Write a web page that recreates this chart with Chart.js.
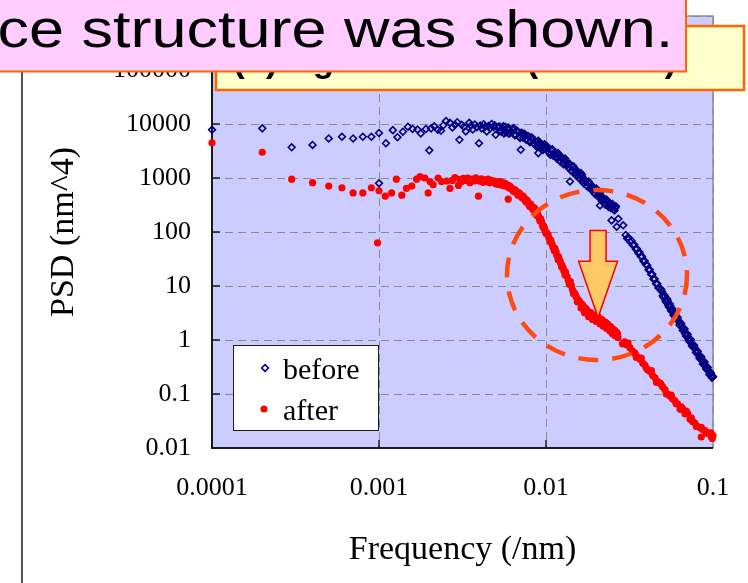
<!DOCTYPE html>
<html>
<head>
<meta charset="utf-8">
<title>PSD before / after</title>
<script src="https://cdn.jsdelivr.net/npm/chart.js@4.4.1/dist/chart.umd.min.js"></script>
<style>
  html, body { margin: 0; padding: 0; background: #ffffff; }
  #psdChart { display: block; }
</style>
</head>
<body>
<canvas id="psdChart" width="748" height="583"></canvas>
<script>
// spectrum bins are multiples of this frequency step (1/nm)
const FREQ_STEP = 1e-4;

const xTicks = [0.0001, 0.001, 0.01, 0.1];
const yTicks = [0.01, 0.1, 1, 10, 100, 1000, 10000, 100000, 1000000];

const seriesLabels = ["before", "after"];

// first scan
const beforeBin = [
  1, 2, 3, 4, 5, 6, 7, 8, 9, 10, 10, 11,
  12.1, 12.9, 13.9, 14.9, 15.9, 17, 17.8, 19.1, 20, 20.5,
  21.4, 22.5, 23.5, 24.3, 25.2, 26.6, 27.5, 28.5, 29.4, 30.3,
  31.3, 32.2, 33.1, 34.7, 35.5, 36.4, 37.5, 38.5, 39.7, 40.4,
  41.2, 42.3, 43.2, 44.2, 45.3, 46.2, 47.3, 48.5, 49.3, 50,
  51.5, 52.3,
  53, 54, 55, 56, 57, 58, 59, 60, 62, 64,
  66, 68, 70, 70.6, 72, 74, 76, 78, 80, 82,
  84, 86, 88, 89.9, 90, 92, 94, 96, 98, 100,
  103, 106, 109, 112, 115, 118, 121, 124, 127, 130,
  134, 138, 139.2, 142, 146, 150, 154, 158, 162, 163.6, 166, 170,
  175, 180, 185, 190, 195, 200, 205, 210, 210.6, 215,
  220, 225, 230, 235, 240, 245, 247, 250, 255, 260,
  265, 271, 290,
  300, 306, 312, 319, 325, 332, 338, 345, 350, 357,
  363, 370, 376, 383, 390, 397, 404, 411, 418, 426,
  433, 440, 448, 456, 464, 472, 480,
  490, 500, 510, 520, 530, 540, 550, 560, 570, 580,
  590, 600, 615, 630, 645, 660, 675, 690, 705, 720,
  735, 750, 770, 790, 810, 830, 850, 870, 890, 910,
  930, 950, 970, 985, 1000
];
const beforePsd = [
  7800, 8300, 3700, 4100, 5400, 5800, 5400, 5800, 5800, 6800, 800, 4400,
  7700, 5700, 7200, 8900, 8100, 7900, 6700, 8100, 3250, 8300,
  9100, 7800, 7500, 9500, 11300, 10500, 8600, 9700, 10800, 5100,
  9700, 8900, 7300, 10500, 9300, 7900, 9800, 8700, 4400, 9400,
  8300, 9900, 8900, 7300, 9200, 8300, 10000, 8800, 9500, 6300,
  8600, 9000,
  8900, 7200, 8200, 6700, 8900, 7200, 8200, 6600, 7300, 8400,
  6300, 7000, 5500, 3330, 6800, 6600, 5100, 6000, 4600, 5700,
  4500, 4900, 3800, 2890, 4900, 3900, 4200, 3300, 4200, 3400,
  3600, 2700, 3400, 2700, 2500, 2900, 2150, 2300, 1800, 2300,
  1750, 1850, 860, 1350, 1650, 1250, 1350, 1000, 1230, 1060, 900, 950,
  720, 860, 660, 700, 530, 640, 480, 530, 310, 400,
  430, 330, 400, 310, 345, 275, 164, 330, 260, 280,
  125, 176, 133,
  88, 76, 78, 66, 69, 57, 58, 48, 49, 41,
  42, 35, 35, 29, 29, 25, 24, 20, 20, 16.5,
  16.5, 13.5, 13.5, 11, 11, 9.2, 9,
  8.6, 6.6, 6.8, 5.3, 5.8, 4.4, 4.7, 3.6, 3.8, 2.9,
  3.2, 2.5, 2.6, 1.9, 2, 1.5, 1.6, 1.18, 1.27, 0.95,
  1.02, 0.77, 0.8, 0.59, 0.62, 0.46, 0.49, 0.36, 0.39, 0.29,
  0.31, 0.23, 0.245, 0.2, 0.21
];

// repeat scan over the mid/high band
const beforeRepeatBin = [
  53.5, 55.5, 57.5, 59.5, 61, 63, 65, 67, 69, 71,
  73, 75, 77, 79, 81, 83, 85, 87, 89, 91,
  93, 95, 97, 99, 101, 104, 107, 110, 113, 116,
  119, 122, 125, 128, 132, 136, 140, 144, 148, 152,
  156, 160, 164, 168, 172, 177, 182, 187, 192, 197,
  202, 207, 212, 217, 222, 227, 232, 237, 242, 252,
  257, 262,
  495, 505, 515, 525, 535, 545, 555, 565, 575, 585,
  595, 607, 622, 637, 652, 667, 682, 697, 712, 727,
  742, 760, 780, 800, 820, 840, 860, 880, 900, 920,
  940, 960, 978, 993
];
const beforeRepeatPsd = [
  7600, 9100, 7000, 8600, 6900, 7900, 6200, 7600, 5800, 6900,
  5600, 6400, 5300, 5800, 4700, 5300, 4300, 4700, 3900, 4500,
  3600, 4100, 3500, 3900, 3900, 3000, 3300, 2600, 3000, 2300,
  2600, 2000, 2400, 1850, 2000, 1550, 1700, 1300, 1450, 1100,
  1250, 950, 1150, 800, 900, 700, 760, 600, 640, 500,
  560, 440, 470, 370, 400, 320, 360, 290, 330, 300,
  250, 300,
  7.8, 6.2, 6.4, 5, 5.4, 4.1, 4.3, 3.4, 3.4, 2.8,
  2.9, 2.5, 2.2, 2.1, 1.7, 1.65, 1.3, 1.25, 1.05, 0.98,
  0.86, 0.75, 0.7, 0.6, 0.52, 0.46, 0.42, 0.37, 0.34, 0.3,
  0.27, 0.25, 0.22, 0.205
];

const afterBin = [
  1, 2, 3, 4, 5, 6, 7, 8, 9, 9.8, 10,
  10.9, 11.9, 12.7, 13.7, 14.6, 15.7, 16.8, 17.6, 18.8, 19.7,
  20.2, 21.1, 22.6, 23.7, 25.4, 26.6, 27.5, 28.5, 29.9, 30.5,
  31.2, 32, 33, 34, 35, 36, 37, 38, 39.4,
  40, 41, 42, 43, 44, 45, 46, 47, 48, 49, 50, 51, 52,
  53, 54, 55, 56, 57, 58, 59, 59.4, 60,
  62, 64, 66, 68, 70, 72, 74, 76, 78, 80,
  82, 84, 86, 88, 90, 92, 94, 96, 98, 100,
  103, 106, 109, 112, 115, 118, 121, 124, 127, 130,
  134, 138, 142, 146, 150, 154, 158, 162, 166, 170,
  175, 180, 185, 190, 195, 200, 205, 210, 215, 220,
  225, 230, 235, 240, 245, 250, 255, 260, 265, 270,
  287, 296, 304, 318, 330, 341, 354, 366, 380, 392,
  406, 420, 435, 450, 466, 482, 500, 516, 535, 553,
  572, 592, 613, 635, 657, 680, 705, 729, 755, 780,
  808, 836, 850, 866, 896, 927, 959, 980, 990, 1000
];
const afterPsd = [
  4500, 3000, 950, 820, 710, 660, 530, 530, 660, 63, 580,
  460, 530, 950, 480, 640, 710, 950, 1060, 1000, 530,
  860, 750, 1000, 860, 880, 640, 900, 1020, 730, 940,
  860, 990, 900, 1000, 820, 950, 880, 1010, 460,
  870, 960, 830, 920, 860, 950, 820, 900, 840, 880, 780, 860, 760,
  860, 740, 820, 720, 800, 700, 740, 405, 650,
  660, 560, 580, 480, 500, 430, 430, 360, 355, 295,
  300, 255, 262, 205, 198, 160, 156, 122, 115, 94,
  89, 66, 59, 45, 43, 31, 30, 22.5, 21, 16,
  14.8, 10.8, 10.2, 7.2, 6.9, 5.1, 5.3, 3.9, 4.4, 3.2,
  3.7, 2.7, 3.2, 2.4, 2.9, 2.2, 2.7, 2.0, 2.4, 1.8,
  2.15, 1.65, 1.95, 1.5, 1.75, 1.3, 1.55, 1.2, 1.38, 1.12,
  0.85, 0.92, 0.82, 0.72, 0.62, 0.57, 0.48, 0.44, 0.37, 0.34,
  0.28, 0.26, 0.22, 0.2, 0.17, 0.16, 0.135, 0.12, 0.1, 0.092,
  0.082, 0.075, 0.066, 0.052, 0.053, 0.043, 0.044, 0.034, 0.031, 0.029,
  0.025, 0.024, 0.016, 0.022, 0.021, 0.019, 0.018, 0.016, 0.015, 0.017
];

const afterRepeatBin = [
  61, 63, 65, 67, 69, 71, 73, 75, 77, 79,
  81, 83, 85, 87, 89, 91, 93, 95, 97, 99,
  101, 104, 107, 110, 113, 116, 119, 122, 125, 128,
  131, 136, 140, 144, 148, 152, 156, 160, 164, 168,
  172, 178, 183, 188, 193, 198, 203, 208, 213, 218,
  223, 228, 233, 238, 243, 248, 253, 258, 263, 268,
  310, 347, 372, 399, 428, 458, 490, 525, 562, 602,
  646, 692, 742, 794, 851, 911, 970
];
const afterRepeatPsd = [
  700, 600, 610, 520, 530, 450, 460, 380, 390, 320,
  330, 270, 280, 225, 220, 180, 175, 138, 128, 102,
  96, 78, 70, 53, 50, 37, 35, 27, 24, 19,
  18, 12.5, 12, 8.5, 7.5, 6.2, 5.6, 5, 4.6, 4,
  3.9, 3.4, 3.2, 2.9, 2.6, 2.7, 2.3, 2.5, 2, 2.3,
  1.9, 2.1, 1.7, 1.8, 1.45, 1.6, 1.35, 1.5, 1.18, 1.3,
  0.88, 0.48, 0.46, 0.3, 0.27, 0.165, 0.15, 0.1, 0.095, 0.066,
  0.058, 0.048, 0.036, 0.025, 0.024, 0.019, 0.019
];

const SERIF = "'Liberation Serif', 'Times New Roman', serif";
const SANS = "'Liberation Sans', Arial, sans-serif";

const captionText = "ce structure was shown.";
const headingText = "(b) Ag island film (2D PSD)";

function toPoints(bins, values) {
  return bins.map((bin, i) => ({ x: bin * FREQ_STEP, y: values[i] }));
}

function drawMarker(ctx, ds, x, y) {
  const r = ds.pointRadius;
  ctx.beginPath();
  if (ds.pointStyle === "rectRot") {
    ctx.moveTo(x - r, y);
    ctx.lineTo(x, y - r);
    ctx.lineTo(x + r, y);
    ctx.lineTo(x, y + r);
    ctx.closePath();
    ctx.lineWidth = ds.pointBorderWidth;
    ctx.strokeStyle = ds.borderColor;
    ctx.stroke();
  } else {
    ctx.arc(x, y, r, 0, Math.PI * 2);
    ctx.fillStyle = ds.backgroundColor;
    ctx.fill();
  }
}

// lavender plot area, axis frame and inward ticks
const plotFrame = {
  id: "plotFrame",
  beforeDraw(chart) {
    const { ctx, chartArea: a } = chart;
    ctx.save();
    ctx.fillStyle = "#ffffff";
    ctx.fillRect(0, 0, chart.width, chart.height);
    ctx.fillStyle = "#ccccff";
    ctx.fillRect(a.left, a.top, a.right - a.left, a.bottom - a.top);
    ctx.restore();
  },
  beforeDatasetsDraw(chart) {
    const { ctx, chartArea: a, scales } = chart;
    ctx.save();
    ctx.strokeStyle = "#8c8c8c";
    ctx.lineWidth = 1.5;
    ctx.beginPath();
    ctx.moveTo(a.left, a.top);
    ctx.lineTo(a.right, a.top);
    ctx.lineTo(a.right, a.bottom);
    ctx.stroke();

    ctx.strokeStyle = "#1a1a1a";
    ctx.lineWidth = 2;
    ctx.beginPath();
    ctx.moveTo(a.left, a.top);
    ctx.lineTo(a.left, a.bottom);
    ctx.lineTo(a.right, a.bottom);
    ctx.stroke();

    ctx.lineWidth = 1.5;
    ctx.beginPath();
    yTicks.slice(1, -1).forEach((v) => {
      const y = scales.y.getPixelForValue(v);
      ctx.moveTo(a.left, y);
      ctx.lineTo(a.left + 8, y);
    });
    xTicks.slice(1, -1).forEach((v) => {
      const x = scales.x.getPixelForValue(v);
      ctx.moveTo(x, a.bottom);
      ctx.lineTo(x, a.bottom - 8);
    });
    ctx.stroke();
    ctx.restore();
  },
};

// dashed ring and arrow marking the dip in the "after" spectrum
const dipMarker = {
  id: "dipMarker",
  afterDatasetsDraw(chart) {
    const { ctx, scales } = chart;
    const cx = scales.x.getPixelForValue(0.0202);
    const cy = scales.y.getPixelForValue(16);
    ctx.save();
    ctx.strokeStyle = "#ff4a12";
    ctx.lineWidth = 4.5;
    ctx.setLineDash([20, 14]);
    ctx.beginPath();
    ctx.ellipse(cx, cy, 90, 85, 0, 0, Math.PI * 2);
    ctx.stroke();
    ctx.setLineDash([]);

    const ax = scales.x.getPixelForValue(0.0205);
    const top = scales.y.getPixelForValue(107);
    const neck = scales.y.getPixelForValue(28.8);
    const tip = scales.y.getPixelForValue(2.6);
    ctx.beginPath();
    ctx.moveTo(ax - 8, top);
    ctx.lineTo(ax + 8, top);
    ctx.lineTo(ax + 8, neck);
    ctx.lineTo(ax + 19.5, neck);
    ctx.lineTo(ax, tip);
    ctx.lineTo(ax - 19.5, neck);
    ctx.lineTo(ax - 8, neck);
    ctx.closePath();
    ctx.fillStyle = "#ffc966";
    ctx.fill();
    ctx.strokeStyle = "#ff0000";
    ctx.lineWidth = 1.5;
    ctx.stroke();
    ctx.restore();
  },
};

// legend box, axis titles and the slide boxes on top
const pageDecor = {
  id: "pageDecor",
  afterDraw(chart) {
    const { ctx, chartArea: a } = chart;
    const sets = chart.data.datasets;
    ctx.save();

    ctx.fillStyle = "#ffffff";
    ctx.fillRect(233.5, 345.5, 145, 85);
    ctx.strokeStyle = "#1a1a1a";
    ctx.lineWidth = 1;
    ctx.strokeRect(233.5, 345.5, 145, 85);
    ctx.font = `30px ${SERIF}`;
    ctx.textAlign = "left";
    ctx.textBaseline = "alphabetic";
    drawMarker(ctx, sets[0], 265, 368);
    ctx.fillStyle = "#000000";
    ctx.fillText(seriesLabels[0], 283, 379);
    drawMarker(ctx, sets[1], 264, 409);
    ctx.fillStyle = "#000000";
    ctx.fillText(seriesLabels[1], 283, 420);

    ctx.font = `34px ${SERIF}`;
    ctx.textAlign = "center";
    ctx.fillText("Frequency (/nm)", (a.left + a.right) / 2, 559);
    ctx.save();
    ctx.translate(73, (a.top + a.bottom) / 2);
    ctx.rotate(-Math.PI / 2);
    ctx.fillText("PSD (nm^4)", 0, 0);
    ctx.restore();

    ctx.strokeStyle = "#1a1a1a";
    ctx.lineWidth = 1.5;
    ctx.beginPath();
    ctx.moveTo(22, 0);
    ctx.lineTo(22, chart.height);
    ctx.stroke();

    ctx.fillStyle = "#ffffcc";
    ctx.fillRect(216, 26, 528, 64);
    ctx.strokeStyle = "#ff6600";
    ctx.lineWidth = 2.5;
    ctx.strokeRect(216, 26, 528, 64);
    ctx.fillStyle = "#000000";
    ctx.font = `bold 35px ${SANS}`;
    ctx.textAlign = "left";
    ctx.fillText(headingText, 233, 72);

    ctx.fillStyle = "#ffccff";
    ctx.fillRect(-10, -10, 696, 81.5);
    ctx.strokeStyle = "#ff6600";
    ctx.lineWidth = 2;
    ctx.strokeRect(-10, -10, 696, 81.5);
    ctx.save();
    ctx.translate(0, 46.7);
    ctx.scale(1, 0.81);
    ctx.fillStyle = "#000000";
    ctx.font = `63px ${SANS}`;
    ctx.fillText(captionText, -2.5, 0);
    ctx.restore();

    ctx.restore();
  },
};

const tickFont = { family: SERIF, size: 26 };

new Chart(document.getElementById("psdChart"), {
  type: "scatter",
  data: {
    datasets: [
      {
        label: seriesLabels[0],
        data: toPoints(beforeBin, beforePsd).concat(toPoints(beforeRepeatBin, beforeRepeatPsd)),
        pointStyle: "rectRot",
        pointRadius: 3.4,
        pointBorderWidth: 1.6,
        borderColor: "#000080",
        backgroundColor: "rgba(0,0,0,0)",
        clip: false,
      },
      {
        label: seriesLabels[1],
        data: toPoints(afterBin, afterPsd).concat(toPoints(afterRepeatBin, afterRepeatPsd)),
        pointStyle: "circle",
        pointRadius: 3.6,
        pointBorderWidth: 0,
        borderColor: "#ff0000",
        backgroundColor: "#ff0000",
        clip: false,
      },
    ],
  },
  options: {
    responsive: false,
    animation: false,
    events: [],
    layout: { padding: { left: 0, right: 35, top: 16, bottom: 0 } },
    plugins: {
      legend: { display: false },
      tooltip: { enabled: false },
    },
    scales: {
      x: {
        type: "logarithmic",
        min: 0.0001,
        max: 0.1,
        afterBuildTicks: (scale) => {
          scale.ticks = xTicks.map((value) => ({ value }));
        },
        afterFit: (scale) => {
          // fixed axis band; end labels may overhang
          scale.height = 135;
          scale.paddingLeft = 0;
          scale.paddingRight = 0;
        },
        ticks: {
          font: tickFont,
          color: "#000000",
          padding: 25,
          maxRotation: 0,
          autoSkip: false,
          callback: (value) => String(value),
        },
        grid: { color: "#8a8a8a", lineWidth: 1, drawTicks: false },
        border: { display: false, dash: [8, 5] },
      },
      y: {
        type: "logarithmic",
        min: 0.01,
        max: 1000000,
        afterBuildTicks: (scale) => {
          scale.ticks = yTicks.map((value) => ({ value }));
        },
        afterFit: (scale) => {
          scale.width = 212;
          scale.paddingTop = 0;
          scale.paddingBottom = 0;
        },
        ticks: {
          font: tickFont,
          color: "#000000",
          padding: 21,
          autoSkip: false,
          callback: (value) => String(value),
        },
        grid: { color: "#8a8a8a", lineWidth: 1, drawTicks: false },
        border: { display: false, dash: [8, 5] },
      },
    },
  },
  plugins: [plotFrame, dipMarker, pageDecor],
});
</script>
</body>
</html>
